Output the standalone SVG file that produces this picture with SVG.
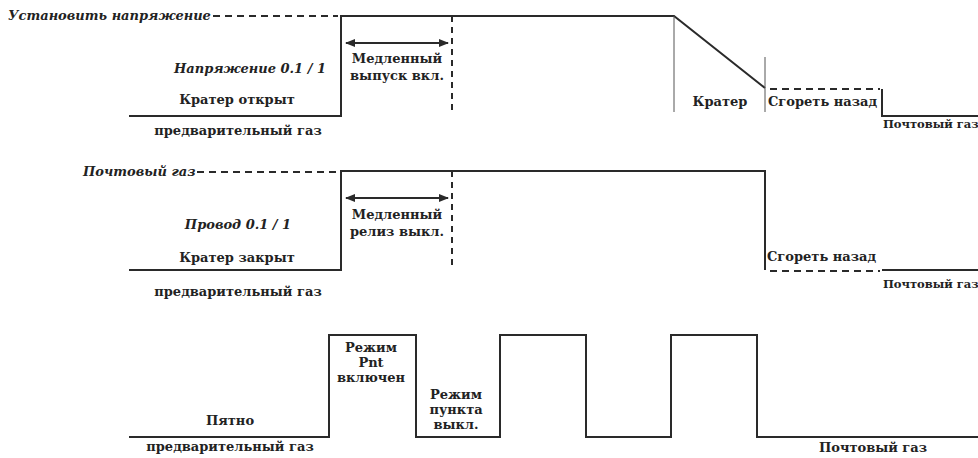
<svg xmlns="http://www.w3.org/2000/svg" width="978" height="458" viewBox="0 0 978 458">
<defs>
<style>
.t{font-family:"DejaVu Serif","Liberation Serif",serif;font-weight:bold;font-size:13px;fill:#222}
.i{font-style:italic}
.c{text-anchor:middle}
.s{font-size:11.5px}
.sig{fill:none;stroke:#2a2a2a;stroke-width:2}
.dash{fill:none;stroke:#2a2a2a;stroke-width:2;stroke-dasharray:7 5}
.vdash{fill:none;stroke:#2a2a2a;stroke-width:2;stroke-dasharray:6 5}
.thin{fill:none;stroke:#555;stroke-width:1}
.arr{fill:none;stroke:#2a2a2a;stroke-width:2;marker-start:url(#ah);marker-end:url(#ah)}
</style>
<marker id="ah" viewBox="0 0 10 8" refX="9" refY="4" markerWidth="10" markerHeight="8" markerUnits="userSpaceOnUse" orient="auto-start-reverse">
<path d="M0,0 L10,4 L0,8 Z" fill="#2a2a2a"/>
</marker>
</defs>
<rect width="978" height="458" fill="#fff"/>
<g id="connectors">
<path class="dash" d="M213,16 H338"/>
<path class="sig" d="M129,116 H341 V16 H674 L765,88"/>
<path class="vdash" d="M452,16 V112"/>
<path class="arr" d="M346,43 H448"/>
<path class="thin" d="M674,16 V112"/>
<path class="thin" d="M765,57 V112"/>
<path class="dash" d="M770,89 H880"/>
<path class="sig" d="M882,89 V116 H978"/>
<path class="dash" d="M197,172 H336"/>
<path class="sig" d="M129,270 H341 V171 H765 V270"/>
<path class="vdash" d="M452,171 V267"/>
<path class="arr" d="M346,198 H448"/>
<path class="dash" d="M770,271 H880"/>
<path class="sig" d="M882,270 H978"/>
<path class="sig" d="M129,437 H329 V335 H416 V437 H500 V335 H586 V437 H671 V335 H757 V437 H978"/>
</g>
<g id="row1">
<text class="t i" x="8" y="20">Установить напряжение</text>
<text class="t i c" x="250" y="73">Напряжение 0.1 / 1</text>
<text class="t c" x="237" y="104">Кратер открыт</text>
<text class="t c" x="238" y="135">предварительный газ</text>
<text class="t c" x="397" y="63">Медленный</text>
<text class="t c" x="397" y="80">выпуск вкл.</text>
<text class="t c" x="720" y="106">Кратер</text>
<text class="t" x="768" y="106">Сгореть назад</text>
<text class="t s" x="883" y="128">Почтовый газ</text>
</g>
<g id="row2">
<text class="t i" x="83" y="176">Почтовый газ</text>
<text class="t i c" x="238" y="229">Провод 0.1 / 1</text>
<text class="t c" x="237" y="262">Кратер закрыт</text>
<text class="t c" x="238" y="296">предварительный газ</text>
<text class="t c" x="397" y="219">Медленный</text>
<text class="t c" x="397" y="236">релиз выкл.</text>
<text class="t" x="767" y="261">Сгореть назад</text>
<text class="t s" x="883" y="288">Почтовый газ</text>
</g>
<g id="row3">
<text class="t c" x="371" y="352">Режим</text>
<text class="t c" x="371" y="367">Pnt</text>
<text class="t c" x="371" y="382">включен</text>
<text class="t c" x="456" y="399">Режим</text>
<text class="t c" x="456" y="414">пункта</text>
<text class="t c" x="456" y="429">выкл.</text>
<text class="t c" x="230" y="425">Пятно</text>
<text class="t c" x="230" y="451">предварительный газ</text>
<text class="t c" x="873" y="452">Почтовый газ</text>
</g>
</svg>
